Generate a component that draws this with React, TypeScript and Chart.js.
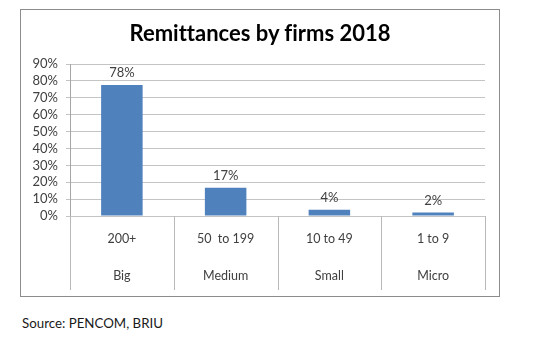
import React, { useEffect, useRef } from "react";
import { Chart, registerables } from "chart.js";

Chart.register(...registerables);

const chartTitle = "Remittances by firms 2018";
const categories: string[][] = [
  ["200+", "Big"],
  ["50  to 199", "Medium"],
  ["10 to 49", "Small"],
  ["1 to 9", "Micro"],
];
const shares: number[] = [77.6, 16.8, 3.7, 2.0];
const shareLabels: string[] = ["78%", "17%", "4%", "2%"];
const yTicks: number[] = [0, 10, 20, 30, 40, 50, 60, 70, 80, 90];
const sourceNote = "Source: PENCOM, BRIU";

const FONT = "Lato, 'Open Sans', sans-serif";

const tablePlugin = {
  id: "tablePlugin",
  afterDraw(chart: any) {
    const { ctx, chartArea } = chart;
    const xs = chart.scales.x;
    const n = categories.length;
    const w = chartArea.width / n;
    ctx.save();
    ctx.strokeStyle = "#b8b8b8";
    ctx.lineWidth = 1;
    for (let i = 0; i <= n; i++) {
      const x = Math.round(chartArea.left + i * w) + 0.5;
      ctx.beginPath();
      ctx.moveTo(x, chartArea.bottom);
      ctx.lineTo(x, xs.bottom);
      ctx.stroke();
    }
    const meta = chart.getDatasetMeta(0);
    ctx.fillStyle = "#404040";
    ctx.font = `13px ${FONT}`;
    ctx.textAlign = "center";
    ctx.textBaseline = "middle";
    meta.data.forEach((bar: any, i: number) => {
      ctx.fillText(shareLabels[i], bar.x, bar.y - 12);
    });
    ctx.restore();
  },
};

function ChartCanvas() {
  const ref = useRef<HTMLCanvasElement>(null);
  useEffect(() => {
    if (!ref.current) return;
    const chart = new Chart(ref.current, {
      type: "bar",
      data: {
        labels: categories,
        datasets: [
          {
            data: shares,
            backgroundColor: "#4f81bd",
            barPercentage: 0.4,
            categoryPercentage: 1,
          },
        ],
      },
      options: {
        animation: false,
        responsive: false,
        maintainAspectRatio: false,
        layout: { padding: { top: 54, left: 0, right: 14, bottom: 6 } },
        plugins: {
          legend: { display: false },
          tooltip: { enabled: false },
          title: { display: false },
        },
        scales: {
          x: {
            grid: { display: false, drawTicks: false },
            border: { display: false },
            ticks: {
              color: "#404040",
              font: { family: FONT, size: 12.5, lineHeight: 3 },
              padding: 4,
              maxRotation: 0,
              autoSkip: false,
            },
            afterFit: (s: any) => {
              s.height = 74;
            },
          },
          y: {
            min: 0,
            max: 90,
            afterBuildTicks: (s: any) => {
              s.ticks = yTicks.map((v) => ({ value: v }));
            },
            grid: { color: "#c4c4c4", tickLength: 4, drawTicks: true },
            border: { display: true, color: "#a6a6a6" },
            ticks: {
              color: "#404040",
              font: { family: FONT, size: 13 },
              padding: 8,
              autoSkip: false,
              callback: (v: any) => `${v}%`,
            },
            afterFit: (s: any) => {
              s.width = 49;
            },
          },
        },
      },
      plugins: [tablePlugin],
    });
    return () => chart.destroy();
  }, []);
  return <canvas ref={ref} width={478} height={286} style={{ display: "block", width: 478, height: 286 }} />;
}

export default function App() {
  return (
    <div style={{ position: "fixed", left: 0, top: 0, width: 549, height: 349, background: "#ffffff" }}>
      <div
        style={{
          position: "absolute",
          left: 20,
          top: 9,
          width: 478,
          height: 286,
          border: "1px solid #8c8c8c",
        }}
      >
        <ChartCanvas />
        <div
          style={{
            position: "absolute",
            left: 0,
            top: 10,
            width: 478,
            textAlign: "center",
            fontFamily: FONT,
            fontWeight: "bold",
            fontSize: 22,
            lineHeight: "26px",
            color: "#000000",
            whiteSpace: "nowrap",
            fontVariantLigatures: "none",
          }}
        >
          {chartTitle}
        </div>
      </div>
      <div
        style={{
          position: "absolute",
          left: 22,
          top: 314,
          fontFamily: FONT,
          fontSize: 13.3,
          lineHeight: "18px",
          color: "#1a1a1a",
          whiteSpace: "nowrap",
        }}
      >
        {sourceNote}
      </div>
    </div>
  );
}
